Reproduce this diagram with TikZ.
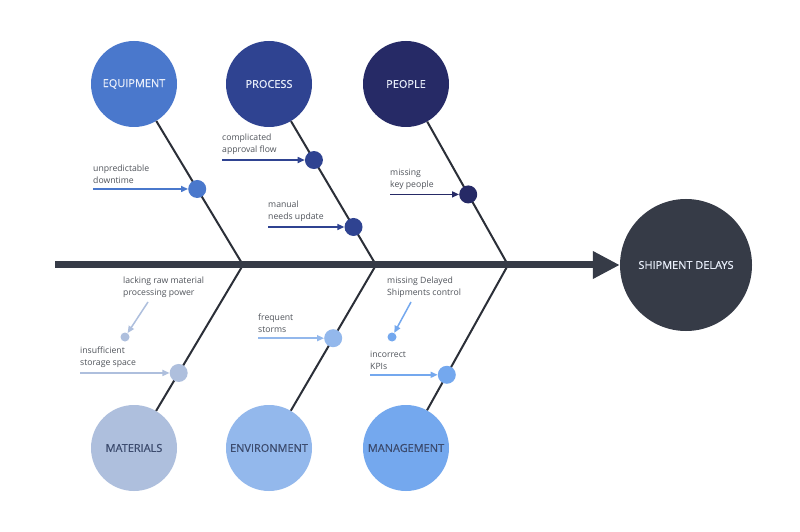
\documentclass[tikz,border=0pt]{standalone}
\usepackage{fontspec}
\setmainfont{Open Sans}
\newfontfamily\capfont[FakeBold=0.6]{Open Sans}
\usetikzlibrary{arrows.meta,calc}
\definecolor{equipcol}{HTML}{4A78CC}
\definecolor{proccol}{HTML}{2F4391}
\definecolor{peoplecol}{HTML}{262A66}
\definecolor{matcol}{HTML}{AEBFDD}
\definecolor{envcol}{HTML}{93B8EC}
\definecolor{mgmtcol}{HTML}{74A8EE}
\definecolor{headcol}{HTML}{363B47}
\definecolor{bonecol}{HTML}{2B2F38}
\definecolor{lblcol}{HTML}{50545B}
\definecolor{toptxt}{HTML}{E8EEFA}
\definecolor{bottxt}{HTML}{3C4B6E}
\begin{document}
\begin{tikzpicture}[x=1bp,y=-1bp,
  cause/.style={circle, draw=none, minimum size=86bp, inner sep=0pt, font=\capfont\fontsize{11}{13}\selectfont},
  subdot/.style={circle, minimum size=18bp, inner sep=0pt},
  tinydot/.style={circle, minimum size=9bp, inner sep=0pt},
  bone/.style={line width=2bp, draw=bonecol},
  feed/.style={line width=1.5bp, -{Triangle[length=7bp,width=6bp]}},
  lbl/.style={anchor=south west, inner sep=0pt, align=left, text=lblcol, font=\fontsize{8.7}{12}\selectfont}]
\fill[white] (0,0) rectangle (800,532);
\useasboundingbox (0,0) rectangle (800,532);
\node [circle, fill=headcol, minimum size=132bp, inner sep=0pt, text=toptxt, font=\capfont\fontsize{11}{13}\selectfont] (head) at (686,265) {SHIPMENT DELAYS};
\coordinate (tail) at (55,265);
\coordinate (j1) at (243,265);
\coordinate (j2) at (376,265);
\coordinate (j3) at (508,265);
\node [cause, fill=equipcol, text=toptxt] (equip) at (134,84) {EQUIPMENT};
\node [cause, fill=proccol, text=toptxt] (proc) at (269,84) {PROCESS};
\node [cause, fill=peoplecol, text=toptxt] (people) at (406,84) {PEOPLE};
\node [cause, fill=matcol, text=bottxt] (mat) at (134,448) {MATERIALS};
\node [cause, fill=envcol, text=bottxt] (env) at (269,448) {ENVIRONMENT};
\node [cause, fill=mgmtcol, text=bottxt] (mgmt) at (406,448) {MANAGEMENT};
\draw [bone] (equip) -- (j1);
\draw [bone] (proc) -- (j2);
\draw [bone] (people) -- (j3);
\draw [bone] (mat) -- (j1);
\draw [bone] (env) -- (j2);
\draw [bone] (mgmt) -- (j3);
\draw [line width=7bp, draw=headcol, -{Triangle[length=27bp,width=26bp]}] (tail) -- (head);
\node [subdot, fill=equipcol] (e1) at ($(equip)!0.58!(j1)$) {};
\node [subdot, fill=proccol] (p1) at ($(proc)!0.42!(j2)$) {};
\node [subdot, fill=proccol] (p2) at ($(proc)!0.79!(j2)$) {};
\node [subdot, fill=peoplecol] (pe1) at ($(people)!0.61!(j3)$) {};
\node [subdot, fill=matcol] (m1) at ($(mat)!0.41!(j1)$) {};
\node [subdot, fill=envcol] (en1) at ($(env)!0.60!(j2)$) {};
\node [subdot, fill=mgmtcol] (mg1) at ($(mgmt)!0.40!(j3)$) {};
\node [tinydot, fill=matcol] (m0) at (125,337) {};
\node [tinydot, fill=mgmtcol] (mg0) at (392,337) {};
\coordinate (e1s) at (e1 -| 93,0);
\coordinate (p1s) at (p1 -| 222,0);
\coordinate (p2s) at (p2 -| 268,0);
\coordinate (pe1s) at (pe1 -| 390,0);
\coordinate (m1s) at (m1 -| 80,0);
\coordinate (en1s) at (en1 -| 258,0);
\coordinate (mg1s) at (mg1 -| 370,0);
\coordinate (m0s) at (148,302);
\coordinate (mg0s) at (411,302);
\draw [feed, equipcol] (e1s) -- (e1);
\draw [feed, proccol] (p1s) -- (p1);
\draw [feed, proccol] (p2s) -- (p2);
\draw [feed, peoplecol] (pe1s) -- (pe1);
\draw [feed, matcol] (m1s) -- (m1);
\draw [feed, envcol] (en1s) -- (en1);
\draw [feed, mgmtcol] (mg1s) -- (mg1);
\draw [feed, matcol] (m0s) -- (m0);
\draw [feed, mgmtcol] (mg0s) -- (mg0);
\node [lbl] (e1l) at ([yshift=5bp]e1s) {unpredictable\\downtime};
\node [lbl] (p1l) at ([yshift=5bp]p1s) {complicated\\approval flow};
\node [lbl] (p2l) at ([yshift=5bp]p2s) {manual\\needs update};
\node [lbl] (pe1l) at ([yshift=5bp]pe1s) {missing\\key people};
\node [lbl] (m1l) at ([yshift=5bp]m1s) {insufficient\\storage space};
\node [lbl] (en1l) at ([yshift=5bp]en1s) {frequent\\storms};
\node [lbl] (mg1l) at ([yshift=5bp]mg1s) {incorrect\\KPIs};
\node [lbl] (m0l) at (123,298) {lacking raw material\\processing power};
\node [lbl] (mg0l) at (387,298) {missing Delayed\\Shipments control};
\end{tikzpicture}
\end{document}
